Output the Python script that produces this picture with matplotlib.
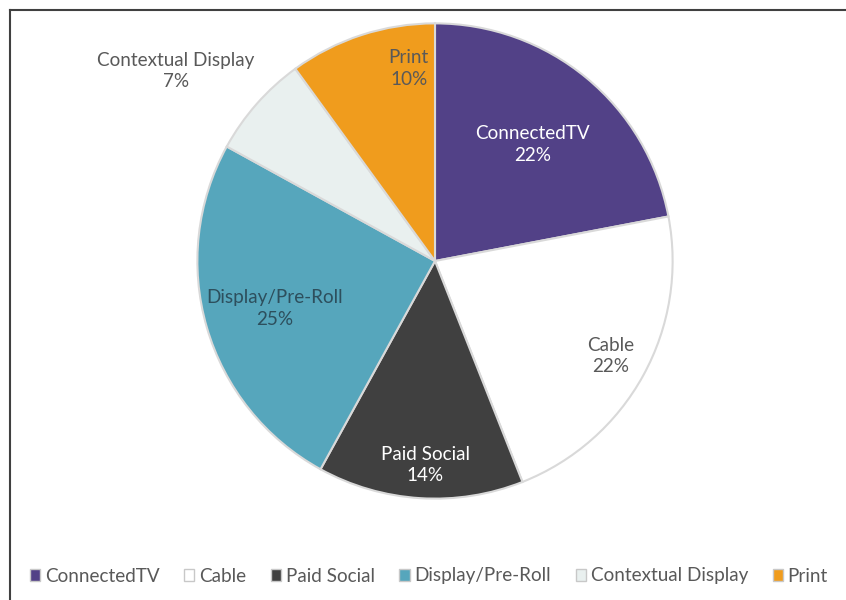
import matplotlib.pyplot as plt
from matplotlib.patches import Patch
from matplotlib.lines import Line2D

# channel split of the media budget
channels = ["ConnectedTV", "Cable", "Paid Social", "Display/Pre-Roll", "Contextual Display", "Print"]
shares = [22, 22, 14, 25, 7, 10]
colors = ["#524187", "#ffffff", "#404040", "#56a6bc", "#e9f0ef", "#f09c1d"]
label_colors = ["white", "#595959", "white", "#2d4f5d", "#595959", "#595959"]
# where each data label sits (pie radius = 1)
label_xy = [(0.41, 0.49), (0.74, -0.40), (-0.04, -0.86), (-0.675, -0.20), (-1.09, 0.80), (-0.11, 0.81)]

plt.rcParams['font.family'] = ['Lato', 'DejaVu Sans']

W, H = 846, 600
fig = plt.figure(figsize=(W / 100, H / 100), dpi=100)

cx, cy, r = 435, 261, 240
ax = fig.add_axes([(cx - r) / W, (H - cy - r) / H, 2 * r / W, 2 * r / H])
ax.pie(shares, colors=colors, startangle=90, counterclock=False, radius=1,
       wedgeprops=dict(edgecolor="#d9d9d9", linewidth=1.5))
ax.set_xlim(-1.01, 1.01)
ax.set_ylim(-1.01, 1.01)
ax.set_aspect('equal')
ax.axis('off')

for name, val, (x, y), c in zip(channels, shares, label_xy, label_colors):
    ax.text(x, y, f"{name}\n{val}%", ha='center', va='center', fontsize=13.6,
            color=c, linespacing=1.3)

# chart frame (top and left edge only visible)
fig.add_artist(Line2D([10 / W, 1], [1 - 10 / H, 1 - 10 / H], color="#404040", lw=1.5))
fig.add_artist(Line2D([10 / W, 10 / W], [0, 1 - 10 / H], color="#404040", lw=1.5))

handles = [Patch(facecolor=c, edgecolor="#c8c8c8", linewidth=1) for c in colors]
leg = fig.legend(handles, channels, loc='center left', bbox_to_anchor=(22 / W, 1 - 576 / H),
                 ncol=6, frameon=False, fontsize=13.6, handlelength=0.55, handleheight=0.55,
                 handletextpad=0.25, columnspacing=1.3, borderaxespad=0)
for t in leg.get_texts():
    t.set_color("#595959")

fig.savefig("out.png", dpi=100)
